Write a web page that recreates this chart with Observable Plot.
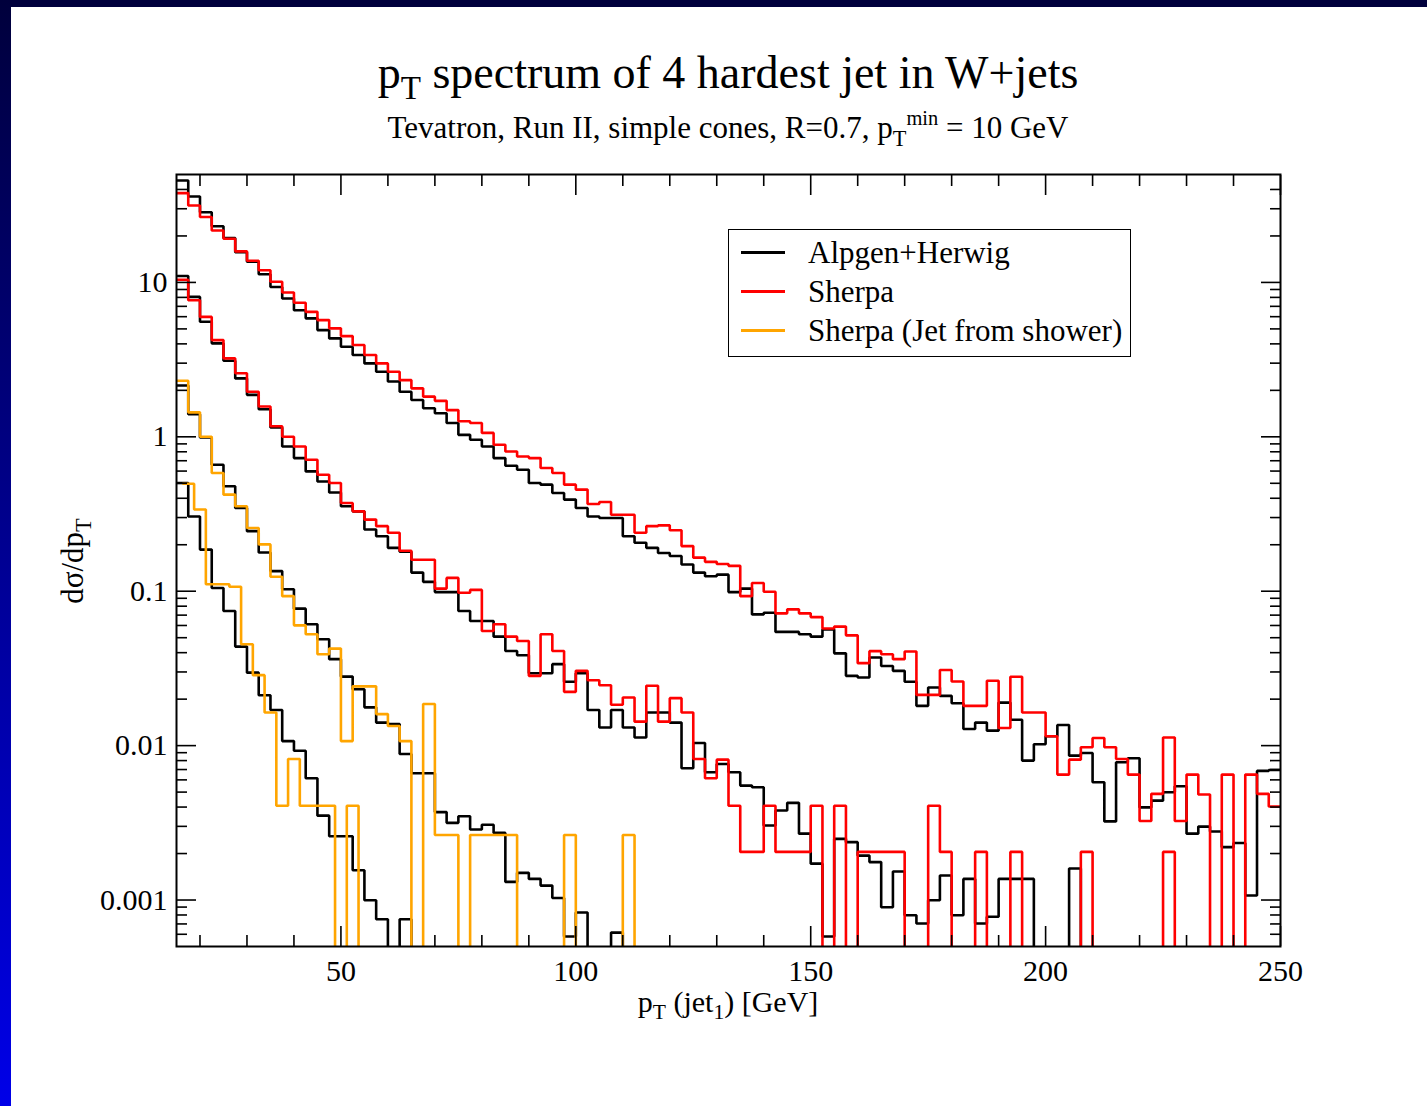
<!DOCTYPE html>
<html><head><meta charset="utf-8">
<script src="https://cdn.jsdelivr.net/npm/d3@7"></script>
<script src="https://cdn.jsdelivr.net/npm/@observablehq/plot@0.6"></script>
<style>
html,body{margin:0;padding:0;background:#fff;}
#page{position:relative;width:1427px;height:1106px;overflow:hidden;background:#fff;font-family:"Liberation Serif","Times New Roman",serif;color:#000;}
#topbar{position:absolute;left:0;top:0;width:1427px;height:7px;background:#00003c;}
#leftbar{position:absolute;left:0;top:0;width:11px;height:1106px;background:linear-gradient(#00003c,#0000e8);}
.t{position:absolute;white-space:nowrap;line-height:1;}
.sub{position:relative;font-size:0.72em;top:0.34em;}
.sup{position:relative;font-size:0.66em;top:-0.62em;}
#chart{position:absolute;left:0;top:160px;}
#legend{position:absolute;left:728px;top:229px;width:403px;height:128px;border:1.5px solid #000;background:#fff;box-sizing:border-box;}
.lg-line{position:absolute;left:12px;width:44px;height:3px;}
.lg-text{position:absolute;left:79px;font-size:31px;line-height:1;white-space:nowrap;}
</style></head>
<body>
<div id="page">
  <div id="topbar"></div>
  <div id="leftbar"></div>
  <div class="t" id="title" style="left:0;width:1456px;text-align:center;top:50px;font-size:46px;">p<span class="sub">T</span> spectrum of 4 hardest jet in W+jets</div>
  <div class="t" id="subtitle" style="left:0;width:1456px;text-align:center;top:112px;font-size:31px;">Tevatron, Run II, simple cones, R=0.7, p<span class="sub">T</span><span class="sup">min</span> = 10 GeV</div>
  <div id="chart"></div>
  <div class="t" id="xlabel" style="left:0;width:1456px;text-align:center;top:987px;font-size:30px;">p<span class="sub">T</span> (jet<span class="sub">1</span>) [GeV]</div>
  <div class="t" id="ylabel" style="left:72px;top:561px;font-size:31px;transform:translate(-50%,-50%) rotate(-90deg);">dσ/dp<span class="sub">T</span></div>
  <div id="legend"></div>
</div>
<script>
// ---- bin edges (GeV) ----
const binEdges = [15, 17.5, 20, 22.5, 25, 27.5, 30, 32.5, 35, 37.5, 40, 42.5, 45, 47.5, 50, 52.5, 55, 57.5, 60, 62.5, 65, 67.5, 70, 72.5, 75, 77.5, 80, 82.5, 85, 87.5, 90, 92.5, 95, 97.5, 100, 102.5, 105, 107.5, 110, 112.5, 115, 117.5, 120, 122.5, 125, 127.5, 130, 132.5, 135, 137.5, 140, 142.5, 145, 147.5, 150, 152.5, 155, 157.5, 160, 162.5, 165, 167.5, 170, 172.5, 175, 177.5, 180, 182.5, 185, 187.5, 190, 192.5, 195, 197.5, 200, 202.5, 205, 207.5, 210, 212.5, 215, 217.5, 220, 222.5, 225, 227.5, 230, 232.5, 235, 237.5, 240, 242.5, 245, 247.5, 250];
const showerBinEdges = [16.25, 18.75, 21.25, 23.75, 26.25, 28.75, 31.25, 33.75, 36.25, 38.75, 41.25, 43.75, 46.25, 48.75, 51.25, 53.75, 56.25];

// ---- series values (dσ/dpT), 0 = empty bin ----
const alpgenA = [45.7, 36.0, 28.5, 23.1, 19.4, 15.7, 13.6, 11.3, 9.35, 7.87,
  6.61, 5.85, 4.91, 4.34, 3.83, 3.39, 2.99, 2.64, 2.28, 1.96,
  1.73, 1.53, 1.42, 1.23, 1.03, 0.957, 0.866, 0.728, 0.650, 0.612,
  0.502, 0.490, 0.433, 0.392, 0.346, 0.305, 0.298, 0.298, 0.227, 0.206,
  0.191, 0.177, 0.169, 0.149, 0.132, 0.125, 0.128, 0.0987, 0.104, 0.0708,
  0.0726, 0.0545, 0.0545, 0.0526, 0.0508, 0.0566, 0.0396, 0.0283, 0.0276, 0.0372,
  0.0328, 0.0305, 0.0259, 0.0181, 0.0238, 0.0210, 0.0188, 0.0128, 0.0141, 0.0125,
  0.0190, 0.0147, 0.0080, 0.0102, 0.0115, 0.0136, 0.00861, 0.00896, 0.00579, 0.00323,
  0.0078, 0.00828, 0.00398, 0.0044, 0.00499, 0.00545, 0.00269, 0.00299, 0.00278, 0.0022,
  0.00234, 0.00107, 0.00686, 0.00695];
const sherpaA = [37.9, 31.5, 26.5, 21.7, 19.2, 15.9, 13.8, 12.0, 10.1, 8.61,
  7.38, 6.45, 5.70, 5.04, 4.49, 3.93, 3.39, 2.99, 2.64, 2.33,
  2.06, 1.82, 1.71, 1.49, 1.26, 1.23, 1.06, 0.888, 0.804, 0.746,
  0.728, 0.628, 0.583, 0.490, 0.455, 0.367, 0.378, 0.313, 0.313, 0.239,
  0.264, 0.267, 0.248, 0.196, 0.165, 0.155, 0.150, 0.146, 0.0929, 0.113,
  0.0993, 0.0719, 0.0763, 0.0719, 0.0680, 0.0573, 0.0590, 0.0518, 0.0342, 0.0409,
  0.0391, 0.0363, 0.0407, 0.0213, 0.0213, 0.0309, 0.0260, 0.0181, 0.0181, 0.0263,
  0.0130, 0.0279, 0.0164, 0.0164, 0.0115, 0.00649, 0.00811, 0.00975, 0.0112, 0.00975,
  0.00819, 0.00649, 0.00325, 0.00487, 0.0113, 0.00325, 0.00649, 0.00482, 0, 0.00649,
  0, 0.00649, 0.00487, 0.00403];
const alpgenB = [11.0, 8.06, 5.56, 4.03, 3.11, 2.39, 1.87, 1.51, 1.15, 0.866,
  0.728, 0.597, 0.514, 0.436, 0.355, 0.329, 0.251, 0.227, 0.191, 0.180,
  0.132, 0.115, 0.0987, 0.0987, 0.0744, 0.0641, 0.0641, 0.0508, 0.0410, 0.0385,
  0.0294, 0.0294, 0.0337, 0.0259, 0.0294, 0.0170, 0.0131, 0.0170, 0.0131, 0.0113,
  0.0164, 0.0164, 0.0141, 0.00713, 0.0104, 0.00672, 0.0076, 0.00672, 0.00551, 0.00537,
  0.00304, 0.0038, 0.00426, 0.00269, 0.00172, 0.00058, 0.00249, 0.00237, 0.00194, 0.00176,
  0.000897, 0.00153, 0.000796, 0.000705, 0.000996, 0.00144, 0.000796, 0.00137, 0.000705, 0.00078,
  0.00137, 0.00137, 0.00137, 0, 0, 0, 0.0016, 0];
const sherpaB = [10.4, 7.67, 5.98, 4.23, 3.22, 2.58, 1.96, 1.57, 1.17, 1.00,
  0.866, 0.710, 0.568, 0.502, 0.373, 0.329, 0.291, 0.264, 0.239, 0.183,
  0.160, 0.160, 0.104, 0.122, 0.0978, 0.102, 0.0552, 0.0611, 0.0508, 0.0476,
  0.0283, 0.0526, 0.0410, 0.0223, 0.0305, 0.0265, 0.0246, 0.0184, 0.0205, 0.0143,
  0.0244, 0.0143, 0.0203, 0.0164, 0.00819, 0.00615, 0.00811, 0.00408, 0.00205, 0.00205,
  0.00408, 0.00205, 0.00205, 0.00205, 0.00408, 0, 0.00408, 0, 0.00205, 0.00205,
  0.00205, 0.00205, 0, 0, 0.00408, 0.00205, 0, 0, 0.00205, 0,
  0, 0.00205, 0, 0, 0, 0, 0, 0.00205, 0, 0,
  0, 0, 0, 0, 0.00205, 0];
const alpgenC = [2.15, 1.40, 0.99, 0.659, 0.478, 0.346, 0.245, 0.178, 0.135, 0.103,
  0.0771, 0.0611, 0.0489, 0.0363, 0.0280, 0.0232, 0.0177, 0.0141, 0.0138, 0.00883,
  0.00662, 0.00662, 0.00371, 0.00316, 0.00349, 0.00286, 0.00307, 0.00272, 0.00131, 0.0015,
  0.00137, 0.00124, 0.00103, 0.00058, 0.00083, 0, 0, 0.000615, 0];
const showerC = [2.31, 1.44, 1.00, 0.583, 0.422, 0.355, 0.257, 0.201, 0.124, 0.0929,
  0.0601, 0.0526, 0.0391, 0.0425, 0.0107, 0.0242, 0.0242, 0.0160, 0.0134, 0.0107,
  0, 0.0186, 0.00264, 0.00264, 0, 0.00264, 0.00264, 0.00264, 0.00264, 0,
  0, 0, 0, 0.00264, 0, 0, 0, 0, 0.00264, 0];
const alpgenD = [0.502, 0.305, 0.186, 0.105, 0.0744, 0.0438, 0.0297, 0.0212, 0.0170, 0.0107,
  0.00927, 0.00615, 0.00352, 0.00259, 0.00259, 0.00156, 0.000996, 0.00075, 0, 0.00075, 0];
const showerD = [0.497, 0.338, 0.111, 0.111, 0.107, 0.0453, 0.0286, 0.0164, 0.00408, 0.00819,
  0.00408, 0.00408, 0.00408, 0, 0.00408, 0];

// ---- axis ticks ----
const xMajorTicks = [50, 100, 150, 200, 250];
const xTickLabels = ["50", "100", "150", "200", "250"];
const xMinorTicks = [20, 30, 40, 60, 70, 80, 90, 110, 120, 130, 140, 160, 170, 180, 190, 210, 220, 230, 240];
const yMajorTicks = [0.001, 0.01, 0.1, 1, 10];
const yTickLabels = ["0.001", "0.01", "0.1", "1", "10"];
const yMinorTicks = [0.0006, 0.0007, 0.0008, 0.0009,
  0.002, 0.003, 0.004, 0.005, 0.006, 0.007, 0.008, 0.009,
  0.02, 0.03, 0.04, 0.05, 0.06, 0.07, 0.08, 0.09,
  0.2, 0.3, 0.4, 0.5, 0.6, 0.7, 0.8, 0.9,
  2, 3, 4, 5, 6, 7, 8, 9, 20, 30, 40];

const legendItems = [
  {label: "Alpgen+Herwig", color: "#000000"},
  {label: "Sherpa", color: "#ff0000"},
  {label: "Sherpa (Jet from shower)", color: "#ffa500"}
];

const seriesList = [
  {values: alpgenA, edges: binEdges, color: "#000000"},
  {values: alpgenB, edges: binEdges, color: "#000000"},
  {values: alpgenC, edges: binEdges, color: "#000000"},
  {values: alpgenD, edges: binEdges, color: "#000000"},
  {values: sherpaA, edges: binEdges, color: "#ff0000"},
  {values: sherpaB, edges: binEdges, color: "#ff0000"},
  {values: showerC, edges: binEdges, color: "#ffa500"},
  {values: showerD, edges: showerBinEdges, color: "#ffa500"}
];

function stepPoints(values, edges) {
  const pts = values.map((v, i) => ({x: edges[i], v}));
  pts.push({x: edges[values.length], v: values[values.length - 1]});
  return pts;
}
const EMPTY = 1e-7; // empty bins fall below the frame and are clipped

const lineMarks = seriesList.map(s => Plot.line(stepPoints(s.values, s.edges), {
  x: "x", y: d => (d.v > 0 ? d.v : EMPTY), curve: "step-after",
  stroke: s.color, strokeWidth: 2.6, strokeLinejoin: "miter", strokeLinecap: "butt", clip: true
}));

const xLab = new Map(xMajorTicks.map((t, i) => [t, xTickLabels[i]]));
const yLab = new Map(yMajorTicks.map((t, i) => [t, yTickLabels[i]]));
const font = {fontSize: 30};

const chart = Plot.plot({
  width: 1427, height: 880,
  marginLeft: 176, marginRight: 147, marginTop: 14, marginBottom: 94,
  x: {type: "linear", domain: [15, 250]},
  y: {type: "log", domain: [0.0005, 50]},
  style: {fontFamily: "'Liberation Serif', 'Times New Roman', serif", background: "transparent", color: "#000"},
  marks: [
    ...lineMarks,
    Plot.axisX(xMajorTicks, {anchor: "bottom", tickSize: -20, tickPadding: 33, strokeWidth: 1.6, tickFormat: d => xLab.get(d), label: null, ...font}),
    Plot.axisX(xMinorTicks, {anchor: "bottom", tickSize: -11, strokeWidth: 1.6, tickFormat: () => "", label: null}),
    Plot.axisX(xMajorTicks, {anchor: "top", tickSize: -20, strokeWidth: 1.6, tickFormat: () => "", label: null}),
    Plot.axisX(xMinorTicks, {anchor: "top", tickSize: -11, strokeWidth: 1.6, tickFormat: () => "", label: null}),
    Plot.axisY(yMajorTicks, {anchor: "left", tickSize: -20, tickPadding: 29, strokeWidth: 1.6, tickFormat: d => yLab.get(d), label: null, ...font}),
    Plot.axisY(yMinorTicks, {anchor: "left", tickSize: -11, strokeWidth: 1.6, tickFormat: () => "", label: null}),
    Plot.axisY(yMajorTicks, {anchor: "right", tickSize: -20, strokeWidth: 1.6, tickFormat: () => "", label: null}),
    Plot.axisY(yMinorTicks, {anchor: "right", tickSize: -11, strokeWidth: 1.6, tickFormat: () => "", label: null}),
    Plot.frame({stroke: "#000", strokeWidth: 2})
  ]
});
document.getElementById("chart").appendChild(chart);

// legend
const lg = document.getElementById("legend");
legendItems.forEach((it, i) => {
  const cy = 22 + i * 39;
  const ln = document.createElement("div");
  ln.className = "lg-line"; ln.style.top = (cy - 1.5) + "px"; ln.style.background = it.color;
  const tx = document.createElement("div");
  tx.className = "lg-text"; tx.style.top = (cy - 15.5) + "px"; tx.textContent = it.label;
  lg.appendChild(ln); lg.appendChild(tx);
});
</script>
</body></html>
